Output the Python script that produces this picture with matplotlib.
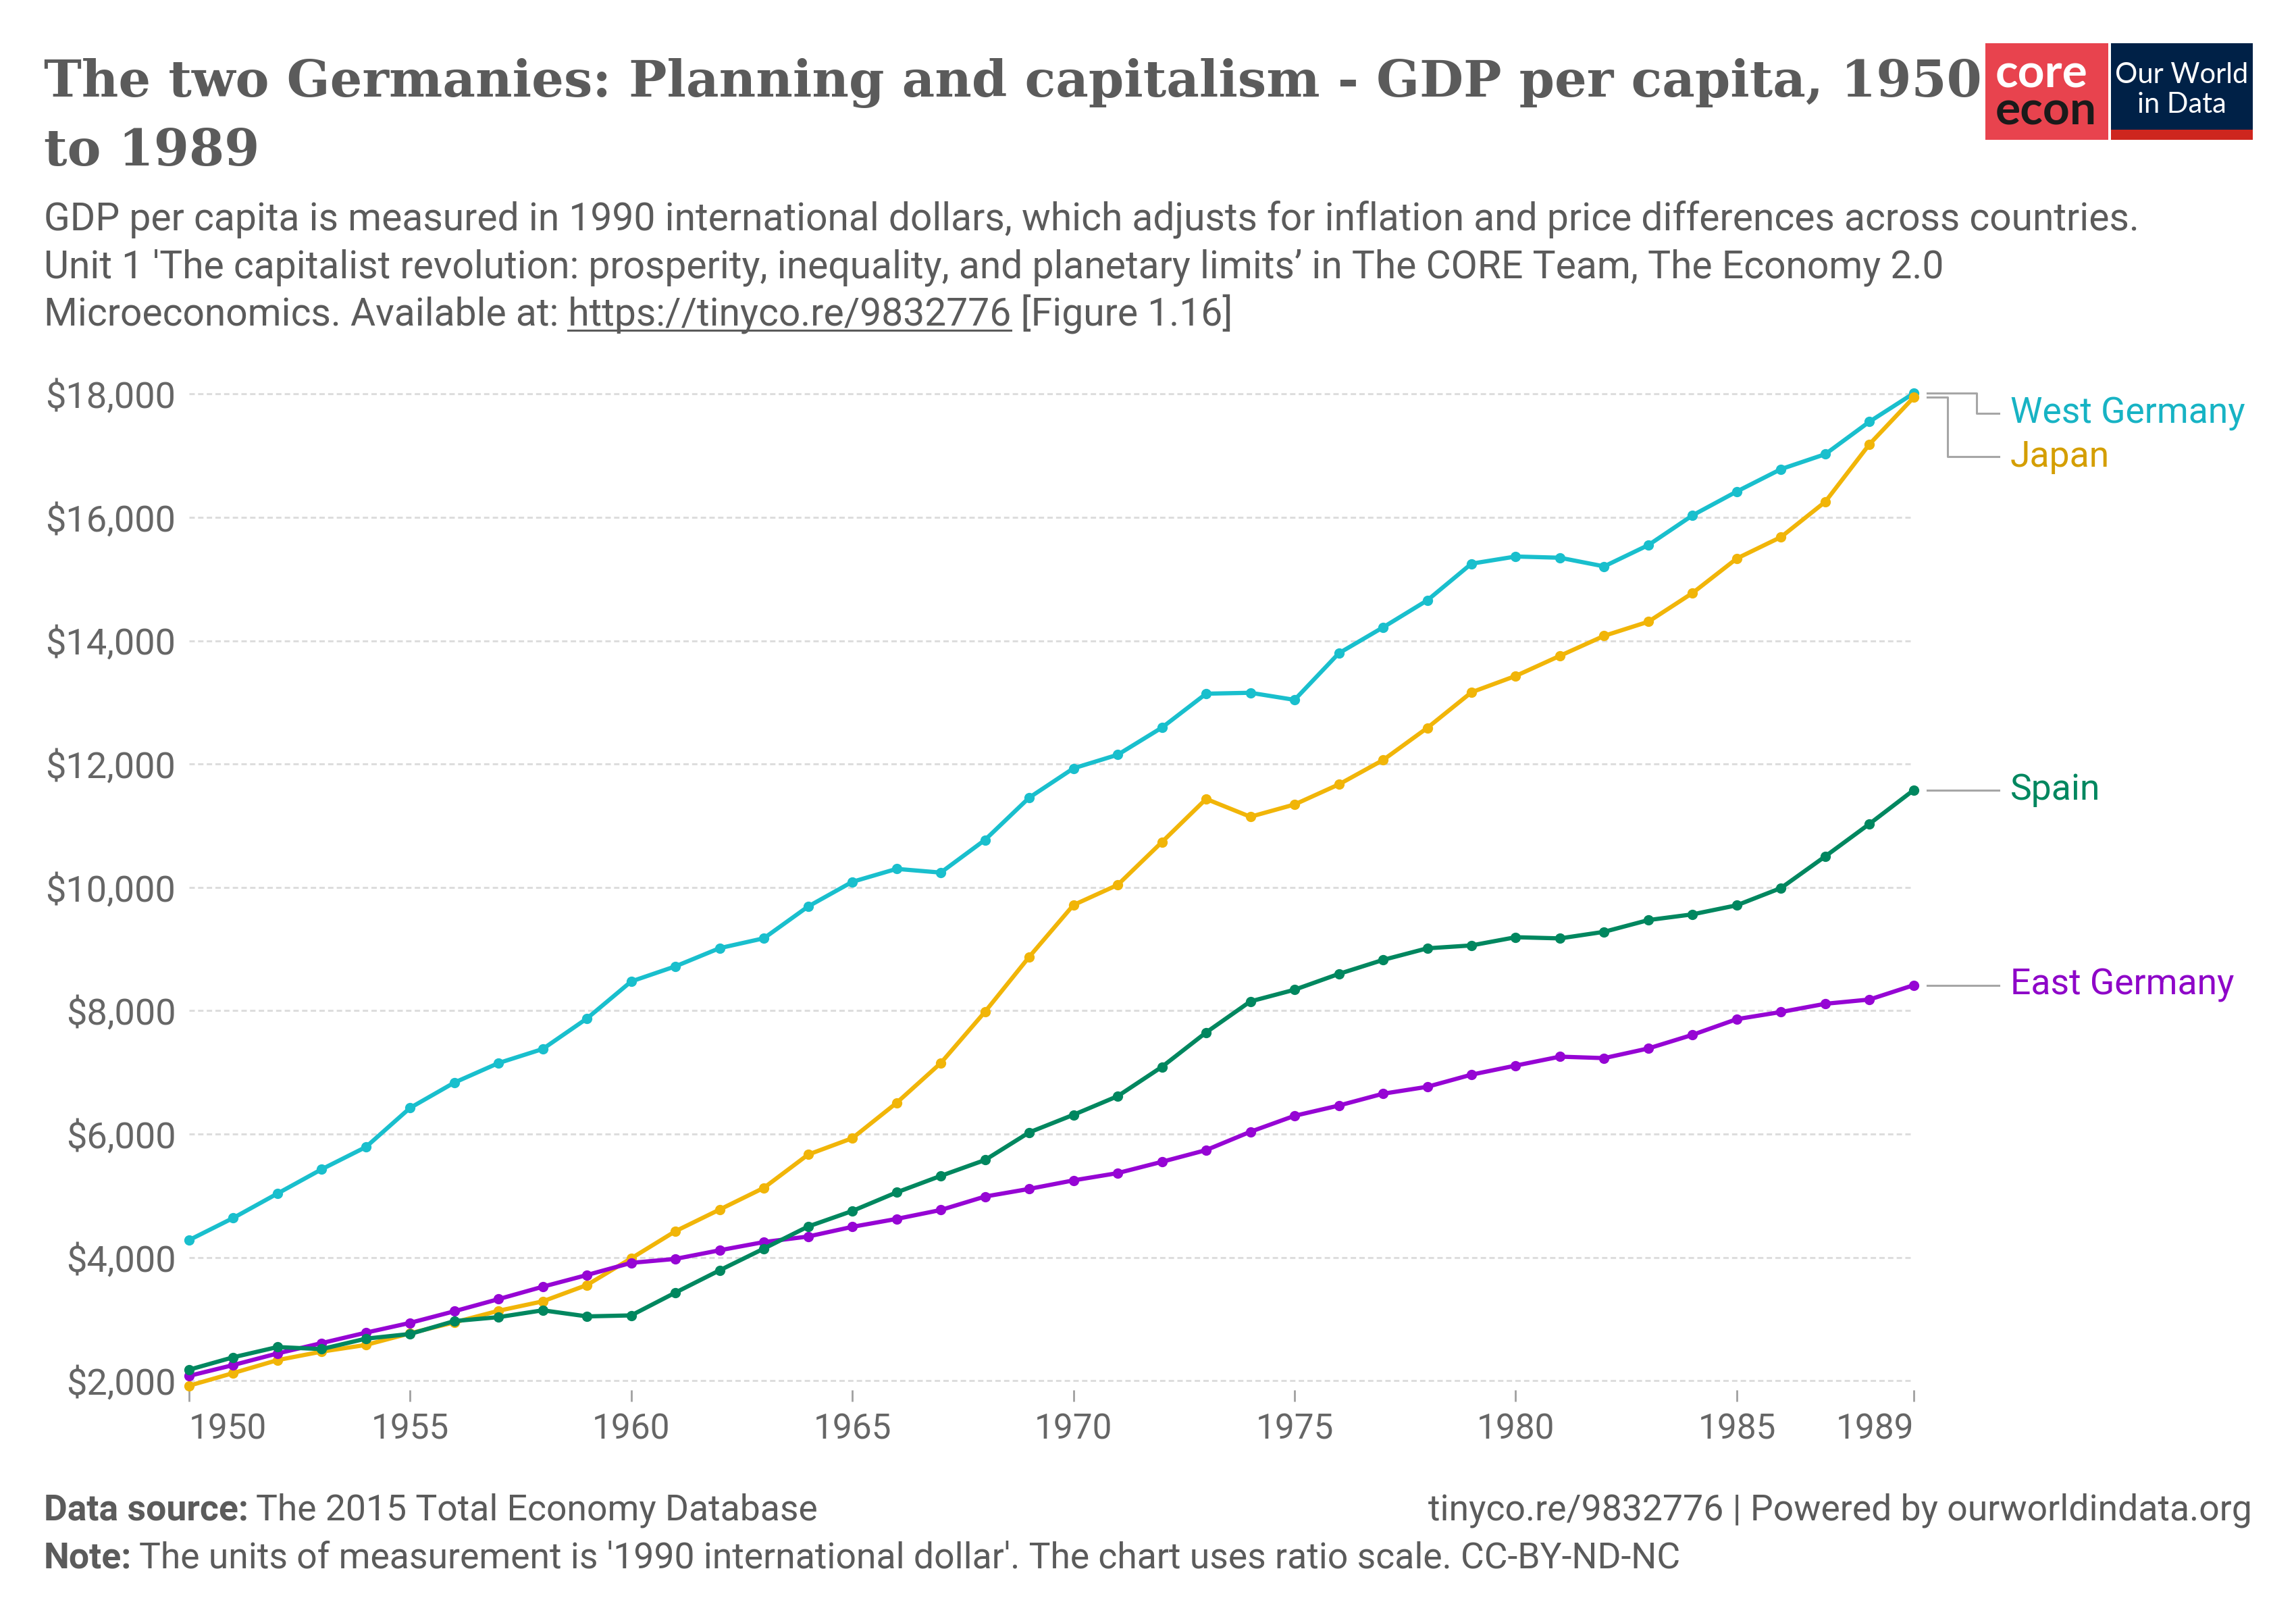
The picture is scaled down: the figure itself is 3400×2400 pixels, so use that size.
import matplotlib
matplotlib.use("Agg")
import matplotlib.pyplot as plt
from matplotlib.patches import Rectangle
from matplotlib.lines import Line2D
from matplotlib.ticker import FuncFormatter

plt.rcParams["font.family"] = ["Roboto", "DejaVu Sans"]

# GDP per capita, 1990 international dollars
years = list(range(1950, 1990))
west_germany = [4281, 4640, 5036, 5430, 5790, 6425, 6835, 7152, 7380, 7875,
                8475, 8720, 9015, 9175, 9690, 10090, 10300, 10240, 10770, 11455,
                11930, 12150, 12590, 13140, 13155, 13040, 13795, 14215, 14653, 15248,
                15364, 15344, 15204, 15549, 16032, 16418, 16781, 17023, 17550, 18010]
japan = [1921, 2126, 2336, 2474, 2582, 2771, 2948, 3136, 3289, 3554,
         3986, 4426, 4777, 5129, 5668, 5934, 6506, 7152, 7983, 8874,
         9714, 10040, 10734, 11434, 11145, 11344, 11669, 12064, 12585, 13163,
         13428, 13754, 14078, 14307, 14773, 15332, 15680, 16251, 17185, 17943]
spain = [2180, 2382, 2548, 2515, 2684, 2760, 2969, 3033, 3144, 3045,
         3061, 3431, 3792, 4144, 4502, 4754, 5055, 5323, 5580, 6028,
         6313, 6615, 7090, 7648, 8151, 8341, 8597, 8824, 9012, 9059,
         9192, 9173, 9280, 9470, 9563, 9710, 9990, 10503, 11030, 11578]
east_germany = [2080, 2256, 2444, 2612, 2781, 2940, 3128, 3325, 3526, 3716,
                3913, 3977, 4117, 4250, 4340, 4497, 4625, 4770, 4988, 5112,
                5250, 5368, 5551, 5741, 6038, 6297, 6463, 6655, 6767, 6964,
                7111, 7256, 7232, 7389, 7610, 7864, 7980, 8113, 8182, 8415]

x_ticks = [1950, 1955, 1960, 1965, 1970, 1975, 1980, 1985, 1989]
y_ticks = [2000, 4000, 6000, 8000, 10000, 12000, 14000, 16000, 18000]

# line colour, label colour
colors = {
    "West Germany": ("#19BFCD", "#17B3C4"),
    "Japan": ("#F1B508", "#D49E00"),
    "Spain": ("#00875F", "#00875F"),
    "East Germany": ("#9605D4", "#8E06C8"),
}
text_gray = "#5b5b5b"

fig = plt.figure(figsize=(34, 24), dpi=100)
ax = fig.add_axes([0.0823, 0.14244, 0.7512, 0.61836])

series = [("West Germany", west_germany), ("Japan", japan),
          ("East Germany", east_germany), ("Spain", spain)]
for name, vals in series:
    ax.plot(years, vals, color=colors[name][0], lw=4.5, marker="o", ms=10,
            clip_on=False, zorder=3, solid_capstyle="round")

ax.set_xlim(1950, 1989)
ax.set_ylim(1850, 18100)
ax.set_yticks(y_ticks)
ax.set_xticks(x_ticks)
ax.yaxis.set_major_formatter(FuncFormatter(lambda v, p: f"${v:,.0f}"))
ax.yaxis.grid(True, color="#dddddd", lw=2.2, ls=(0, (2.6, 1.6)))
ax.set_axisbelow(True)
for s in ax.spines.values():
    s.set_visible(False)
ax.tick_params(axis="y", length=0, pad=14, labelsize=39, labelcolor="#666666")
ax.tick_params(axis="x", length=12, width=2, color="#a0a0a0", pad=12,
               labelsize=37, labelcolor="#666666")
xl = ax.get_xticklabels()
xl[0].set_ha("left")
xl[-1].set_ha("right")

# end-of-line labels with connectors
fig.canvas.draw()
r = fig.canvas.get_renderer()
label_dy = {"West Germany": -30, "Japan": -88, "Spain": 0, "East Germany": 0}
elbow_dx = {"West Germany": 93, "Japan": 50, "Spain": None, "East Germany": None}
for name, vals in series:
    px, py = ax.transData.transform((years[-1], vals[-1]))
    ly = py + label_dy[name]
    x0 = px + 20
    x1 = px + 126
    if elbow_dx[name] is None:
        xs, ys = [x0, x1], [py, py]
    else:
        ex = px + elbow_dx[name]
        xs, ys = [x0, ex, ex, x1], [py, py, ly, ly]
    fig.add_artist(Line2D(xs, ys, transform=None, color="#a6a6a6", lw=2.2))
    fig.text((px + 143) / 3400, ly / 2400, name, color=colors[name][1],
             fontsize=38.5, va="center", ha="left")

# title and subtitle
title_kw = dict(family="DejaVu Serif", weight="bold", fontsize=54, color=text_gray)
fig.text(0.0191, 0.9404, "The two Germanies: Planning and capitalism - GDP per capita, 1950", **title_kw)
fig.text(0.0191, 0.8979, "to 1989", **title_kw)

sub_size = 41
fig.text(0.0191, 0.8582, "GDP per capita is measured in 1990 international dollars, which adjusts "
         "for inflation and price differences across countries.", fontsize=sub_size, color=text_gray)
fig.text(0.0191, 0.8284, "Unit 1 'The capitalist revolution: prosperity, inequality, and planetary "
         "limits\u2019 in The CORE Team, The Economy 2.0", fontsize=sub_size, color=text_gray)
fig.text(0.0191, 0.7995, "Microeconomics. Available at: https://tinyco.re/9832776 [Figure 1.16]",
         fontsize=sub_size, color=text_gray)

# underline the link
url = "https://tinyco.re/9832776"
tmp_all = fig.text(0, 0, "Microeconomics. Available at: " + url, fontsize=sub_size)
tmp_url = fig.text(0, 0, url, fontsize=sub_size)
w_all = tmp_all.get_window_extent(r).width
w_url = tmp_url.get_window_extent(r).width
tmp_all.remove()
tmp_url.remove()
x_start = 0.0191 * 3400 + (w_all - w_url)
base_y = 0.7995 * 2400 - 8
fig.add_artist(Line2D([x_start, x_start + w_url], [base_y, base_y], transform=None,
                      color=text_gray, lw=2.2))

# footer
foot_size = 38.5
b1 = fig.text(0.0191, 0.0623, "Data source:", fontsize=foot_size, weight="bold", color=text_gray)
wb1 = b1.get_window_extent(r).width
fig.text(0.0191 + (wb1 + 11) / 3400, 0.0623, "The 2015 Total Economy Database",
         fontsize=foot_size, color=text_gray)
b2 = fig.text(0.0191, 0.0325, "Note:", fontsize=foot_size, weight="bold", color=text_gray)
wb2 = b2.get_window_extent(r).width
fig.text(0.0191 + (wb2 + 11) / 3400, 0.0325,
         "The units of measurement is '1990 international dollar'. The chart uses ratio scale. CC-BY-ND-NC",
         fontsize=foot_size, color=text_gray)
fig.text(0.9809, 0.0623, "tinyco.re/9832776 | Powered by ourworldindata.org",
         fontsize=foot_size, color=text_gray, ha="right")

# logos
fig.add_artist(Rectangle((0.8647, 0.9138), 0.0535, 0.0595, transform=fig.transFigure,
                         facecolor="#E8434E", edgecolor="none"))
fig.text(0.8691, 0.9462, "core", family="Lato", weight="bold", fontsize=50, color="white")
fig.text(0.8691, 0.9232, "econ", family="Lato", weight="bold", fontsize=50, color="#1a1a1a")
fig.add_artist(Rectangle((0.9194, 0.9138), 0.0618, 0.0595, transform=fig.transFigure,
                         facecolor="#002147", edgecolor="none"))
fig.add_artist(Rectangle((0.9194, 0.9138), 0.0618, 0.0063, transform=fig.transFigure,
                         facecolor="#CE261E", edgecolor="none"))
fig.text(0.9503, 0.9488, "Our World", family="Lato", fontsize=30, color="white", ha="center")
fig.text(0.9503, 0.9304, "in Data", family="Lato", fontsize=30, color="white", ha="center")

fig.savefig("out.png", dpi=100, facecolor="white")
